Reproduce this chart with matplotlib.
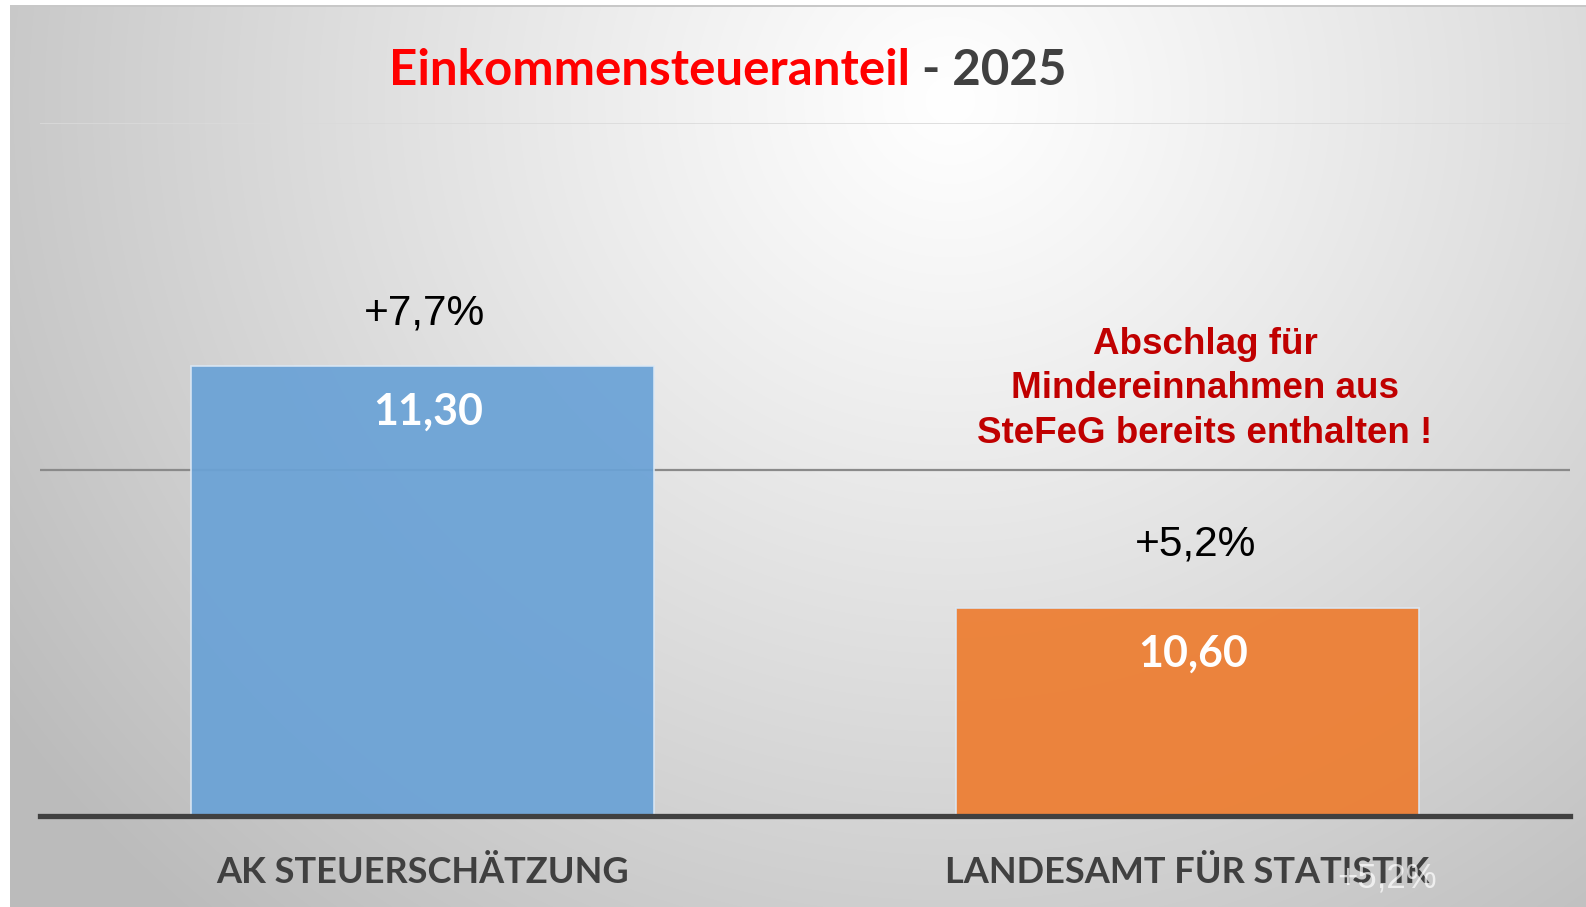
import matplotlib
matplotlib.use("Agg")
import matplotlib.pyplot as plt
import numpy as np

# data
categories = ["AK STEUERSCHÄTZUNG", "LANDESAMT FÜR STATISTIK"]
values = [11.30, 10.60]
value_labels = ["11,30", "10,60"]
change_labels = ["+7,7%", "+5,2%"]
bar_colors = ["#6aa2d6", "#ed7d31"]
note = "Abschlag für\nMindereinnahmen aus\nSteFeG bereits enthalten !"

W, H, DPI = 1586, 907, 100
fig = plt.figure(figsize=(W / DPI, H / DPI), dpi=DPI)

# background: grey radial gradient panel with white strip left/top
bg = fig.add_axes([0, 0, 1, 1], zorder=-10)
yy, xx = np.mgrid[0:H, 0:W]
d = np.sqrt(((xx - 950) / 1000.0) ** 2 + ((yy - 100) / 950.0) ** 2)
g = 255 - 58 * np.clip(d, 0, 1.15) ** 1.1
g[(xx < 10) | (yy < 5)] = 255
g[(yy >= 5) & (yy < 7) & (xx >= 10)] = 200
img = np.dstack([g, g, g]).astype(np.uint8)
bg.imshow(img, extent=[0, W, H, 0], aspect="auto", interpolation="bilinear")
bg.axis("off")

ax = fig.add_axes([40 / W, 1 - 816 / H, 1530 / W, (816 - 123) / H])
ax.set_facecolor("none")

x = np.arange(len(categories))

# gridlines
ax.axhline(11, color="#8a8a8a", lw=1.6, zorder=1)
ax.axhline(12, color="#dadada", lw=1.2, zorder=1)

bars = ax.bar(x, values, width=0.605, bottom=0, color=bar_colors,
              edgecolor="#dbe8f5", linewidth=1.2, alpha=0.93, zorder=2)

ax.set_xlim(-0.5, 1.5)
ax.set_ylim(10, 12)

for s in ["top", "right", "left"]:
    ax.spines[s].set_visible(False)
ax.spines["bottom"].set_color("#404040")
ax.spines["bottom"].set_linewidth(3.8)
ax.spines["bottom"].set_zorder(5)
ax.set_yticks([])

ax.set_xticks(x)
ax.set_xticklabels(categories, fontsize=26, fontweight="bold",
                   color="#404040", family="Lato")
ax.tick_params(axis="x", length=0, pad=67 * 72 / DPI)
for lab in ax.get_xticklabels():
    lab.set_verticalalignment("baseline")

# labels inside and above bars
change_offsets = [(2, 41), (8, 53)]
for i, v in enumerate(values):
    ax.annotate(value_labels[i], (x[i], v), xytext=(6, -59),
                textcoords="offset pixels", ha="center", va="baseline",
                fontsize=31, fontweight="bold", color="white",
                family="Lato", zorder=6)
    ax.annotate(change_labels[i], (x[i], v), xytext=change_offsets[i],
                textcoords="offset pixels", ha="center", va="baseline",
                fontsize=30.5, color="black", family="Liberation Sans",
                zorder=6)

ax.text((1205 - 40) / 1530, (816 - 443) / (816 - 123), note,
        transform=ax.transAxes, ha="center", va="baseline",
        multialignment="center", linespacing=1.36,
        fontsize=26.5, fontweight="bold", color="#c00000",
        family="Liberation Sans")

# title in two colours
t1 = fig.text(389 / W, 1 - 85 / H, "Einkommensteueranteil", ha="left",
              va="baseline", fontsize=35.5, fontweight="bold",
              color="#ff0000", family="Lato")
ax.annotate(" - 2025", xy=(1, 0), xycoords=t1, ha="left", va="bottom",
            fontsize=35.5, fontweight="bold", color="#404040", family="Lato",
            annotation_clip=False)

# faint leftover label
fig.text(1387 / W, 1 - 888 / H, "+5,2%", ha="center", va="baseline",
         fontsize=25, color="white", alpha=0.7, family="Liberation Sans")

fig.savefig("out.png", dpi=DPI)
